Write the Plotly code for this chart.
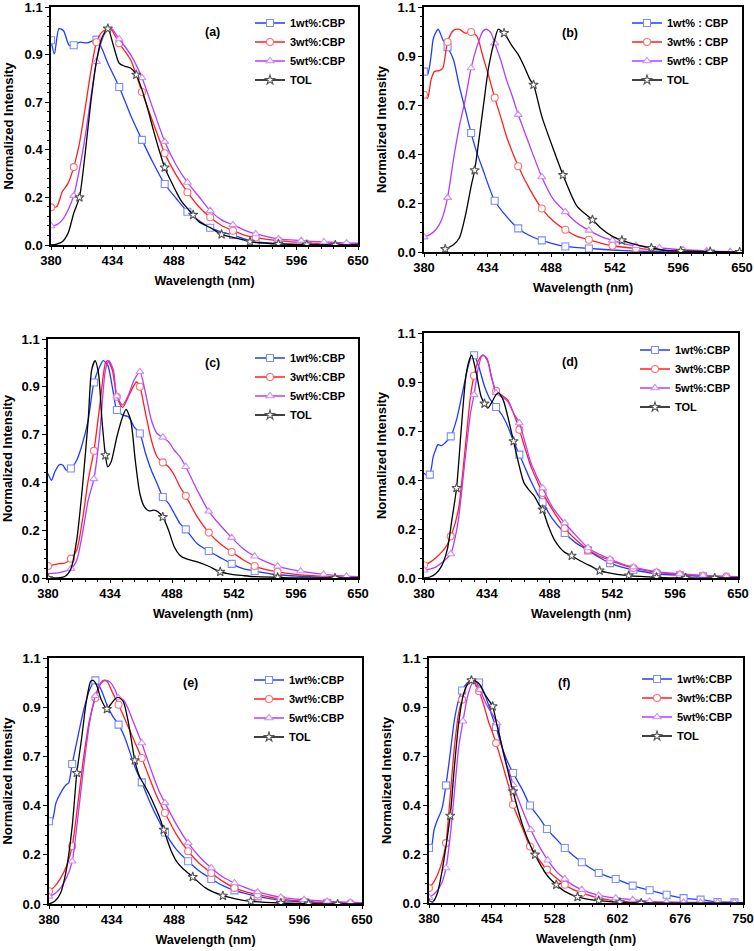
import plotly.graph_objects as go

# ---------------- data ----------------
NAMES = ["1wt%:CBP", "3wt%:CBP", "5wt%:CBP", "TOL"]
NAMES_B = ["1wt% : CBP", "3wt% : CBP", "5wt% : CBP", "TOL"]
PANEL_LABELS = ["(a)", "(b)", "(c)", "(d)", "(e)", "(f)"]
X_TICK0 = [380, 380, 380, 380, 380, 380]
X_DTICK = [54, 54, 54, 54, 54, 74]
X_MAX = [650, 650, 650, 650, 650, 750]
Y_TICKVALS = [0, 0.22, 0.44, 0.66, 0.88, 1.1]
Y_TICKTEXT = ["0.0", "0.2", "0.4", "0.7", "0.9", "1.1"]

# ---- panel (a)
A1_X = [380,383,387,391,396,400,405,412,420,425,430,440,450,460,470,480,490,500,510,520,530,540,550,560,580,600,650]
A1_Y = [0.946,0.883,1.0,0.99,0.923,0.923,0.937,0.934,0.949,0.905,0.84,0.73,0.6,0.486,0.378,0.282,0.216,0.154,0.113,0.08,0.06,0.046,0.028,0.015,0.006,0.002,0.0]
A1_M = [380,400,420,440,460,480,500,520,540,560]
A3_X = [380,385,390,395,400,405,410,415,420,425,432,440,450,460,470,480,490,500,510,520,530,540,550,560,570,580,600,620,640,650]
A3_Y = [0.174,0.177,0.247,0.285,0.36,0.47,0.63,0.8,0.937,0.985,1.0,0.932,0.856,0.707,0.563,0.424,0.324,0.244,0.177,0.128,0.09,0.066,0.046,0.035,0.026,0.02,0.011,0.006,0.003,0.002]
A3_M = [380,400,420,440,460,480,500,520,540,560,580]
A5_X = [380,385,390,395,400,405,410,415,420,425,429,433,440,450,460,470,480,490,500,510,520,530,540,550,560,570,580,600,620,640,650]
A5_Y = [0.088,0.093,0.116,0.162,0.228,0.35,0.5,0.68,0.847,0.95,0.99,1.0,0.952,0.88,0.773,0.625,0.478,0.37,0.289,0.224,0.159,0.116,0.093,0.069,0.051,0.039,0.028,0.02,0.014,0.009,0.008]
A5_M = [380,400,420,440,460,480,500,520,540,560,580,600,620,640]
AT_X = [380,385,390,395,400,405,410,415,420,425,430,435,440,445,450,455,460,465,470,475,480,485,490,495,505,510,520,530,540,550,555,570,580,605,630,650]
AT_Y = [0,0.004,0.015,0.054,0.147,0.22,0.42,0.66,0.85,0.96,1.0,0.92,0.84,0.826,0.818,0.787,0.718,0.63,0.532,0.44,0.358,0.3,0.247,0.2,0.139,0.108,0.08,0.049,0.035,0.023,0.015,0.008,0.005,0.002,0.0,0.0]
AT_M = [405,430,455,480,505,530,555,580,605,630]

# ---- panel (b)
B1_X = [380,383,386,388,392,396,400,405,410,415,420,425,430,440,450,460,470,480,490,500,520,540,560,580,600,650]
B1_Y = [0.81,0.796,0.88,0.96,1.0,0.953,0.919,0.864,0.744,0.64,0.534,0.444,0.37,0.23,0.16,0.106,0.073,0.052,0.037,0.025,0.016,0.009,0.004,0.0015,0.0,0.0]
B1_M = [380,400,420,440,460,480,500,520]
B3_X = [380,383,386,389,393,396,400,405,410,415,420,425,430,435,440,445,450,460,470,480,490,500,510,520,530,540,560,580,600,620,650]
B3_Y = [0.706,0.69,0.774,0.811,0.814,0.826,0.943,0.995,1.0,0.983,0.988,0.968,0.878,0.789,0.693,0.609,0.52,0.385,0.28,0.195,0.138,0.1,0.07,0.055,0.04,0.028,0.016,0.009,0.004,0.0015,0.0]
B3_M = [380,400,420,440,460,480,500,520,540,560]
B5_X = [380,385,390,395,400,405,410,415,420,425,430,433,437,440,445,450,455,460,470,480,490,500,510,520,530,540,550,560,580,600,620,640,650]
B5_Y = [0.067,0.078,0.1,0.145,0.244,0.415,0.564,0.684,0.826,0.923,0.991,1.0,0.983,0.938,0.864,0.774,0.699,0.617,0.474,0.337,0.235,0.18,0.13,0.097,0.07,0.052,0.037,0.028,0.018,0.01,0.005,0.0015,0.0]
B5_M = [380,400,420,440,460,480,500,520,540,560,580,600,620,640]
BT_X = [398,405,410,415,420,423,430,435,440,443,446,448,455,460,465,470,473,480,490,498,510,523,530,540,548,560,573,585,598,623,648]
BT_Y = [0.013,0.033,0.063,0.16,0.295,0.367,0.639,0.834,0.953,1.0,0.991,0.983,0.923,0.886,0.834,0.774,0.751,0.609,0.459,0.346,0.205,0.145,0.108,0.07,0.052,0.033,0.018,0.0075,0.0045,0.0015,0.0]
BT_M = [398,423,448,473,498,523,548,573,598,623,648]

# ---- panel (c)
C1_X = [380,383,386,390,393,396,400,405,410,415,420,425,428,432,436,440,445,450,455,460,465,470,475,480,485,490,495,500,510,520,530,540,550,560,580,600,620,650]
C1_Y = [0.481,0.45,0.489,0.522,0.519,0.496,0.504,0.542,0.619,0.727,0.9,0.972,1.0,0.98,0.88,0.773,0.75,0.742,0.696,0.665,0.573,0.496,0.435,0.373,0.343,0.297,0.25,0.224,0.158,0.124,0.094,0.065,0.043,0.032,0.015,0.008,0.003,0.0]
C1_M = [400,420,440,460,480,500,520,540,560]
C3_X = [380,390,395,400,405,410,415,420,425,430,432,436,440,445,450,455,457,460,465,470,475,480,485,490,495,500,510,520,530,540,550,560,570,580,600,620,640,650]
C3_Y = [0.055,0.066,0.069,0.089,0.128,0.266,0.45,0.585,0.79,0.988,1.0,0.957,0.834,0.785,0.834,0.888,0.902,0.88,0.757,0.635,0.558,0.532,0.512,0.473,0.419,0.378,0.281,0.209,0.158,0.12,0.084,0.055,0.038,0.028,0.014,0.008,0.003,0.0015]
C3_M = [380,400,420,440,460,480,500,520,540,560,580]
C5_X = [380,390,400,405,410,415,420,425,430,433,437,440,445,450,455,460,465,470,475,480,485,490,495,500,510,520,530,540,550,560,570,580,600,620,640,650]
C5_Y = [0.02,0.025,0.043,0.081,0.204,0.358,0.456,0.66,0.957,1.0,0.957,0.837,0.796,0.842,0.911,0.949,0.85,0.727,0.665,0.647,0.627,0.588,0.558,0.512,0.404,0.307,0.243,0.186,0.135,0.1,0.074,0.054,0.032,0.017,0.008,0.006]
C5_M = [400,420,440,460,480,500,520,540,560,580,600,620,640]
CT_X = [380,390,395,400,405,410,415,418,421,424,427,430,432,435,440,445,448,452,456,460,464,468,472,476,480,485,490,495,500,510,520,530,540,550,560,580,600,630,650]
CT_Y = [0,0.0015,0.008,0.043,0.174,0.419,0.727,0.957,1.0,0.942,0.727,0.565,0.512,0.535,0.65,0.742,0.776,0.727,0.542,0.389,0.327,0.309,0.312,0.304,0.281,0.22,0.143,0.104,0.089,0.074,0.054,0.028,0.017,0.011,0.006,0.003,0.0,0.0,0.0]
CT_M = [380,430,480,530,580,630]

# ---- panel (d)
D1_X = [380,383,385,388,390,392,395,398,403,408,413,418,421,423,427,432,437,442,447,452,457,462,467,472,477,482,490,501,510,521,530,540,550,560,580,600,620,650]
D1_Y = [0.471,0.459,0.464,0.546,0.576,0.599,0.594,0.606,0.636,0.711,0.831,0.951,0.998,1.0,0.951,0.861,0.801,0.768,0.733,0.681,0.614,0.554,0.494,0.434,0.382,0.34,0.269,0.202,0.16,0.124,0.094,0.067,0.049,0.037,0.019,0.012,0.0075,0.003]
D1_M = [385,403,423,442,462,482,501,521,540,560,580,600,620]
D3_X = [380,385,390,395,400,403,407,410,415,420,423,427,431,435,438,442,447,452,457,462,467,472,477,482,490,501,510,521,530,540,550,560,580,600,620,640,650]
D3_Y = [0.057,0.07,0.09,0.115,0.15,0.187,0.25,0.32,0.56,0.816,0.908,0.98,1.0,0.97,0.9,0.84,0.82,0.8,0.74,0.666,0.58,0.5,0.44,0.382,0.31,0.224,0.175,0.127,0.1,0.079,0.06,0.045,0.025,0.015,0.01,0.006,0.0045]
D3_M = [380,403,423,442,462,482,501,521,540,560,580,600,620,640]
D5_X = [380,385,390,395,403,407,410,415,420,423,427,430,434,438,442,447,452,457,462,467,472,477,482,490,501,510,521,530,540,550,560,580,600,620,640,650]
D5_Y = [0.035,0.04,0.049,0.067,0.108,0.187,0.277,0.516,0.741,0.822,0.951,1.0,0.988,0.905,0.831,0.813,0.793,0.741,0.696,0.606,0.516,0.456,0.404,0.322,0.247,0.195,0.135,0.108,0.085,0.064,0.049,0.028,0.018,0.012,0.0075,0.006]
D5_M = [380,403,423,442,462,482,501,521,540,560,580,600,620,640]
DT_X = [380,385,390,395,400,404,408,412,416,419,421,425,429,432,435,438,442,444,448,452,457,462,466,470,475,479,482,487,492,497,501,507,515,525,531,540,556,580,605,630,650]
DT_Y = [0,0.0045,0.019,0.052,0.127,0.262,0.404,0.666,0.905,0.98,1.0,0.92,0.816,0.783,0.763,0.786,0.823,0.831,0.801,0.726,0.614,0.501,0.427,0.397,0.367,0.329,0.307,0.232,0.172,0.135,0.115,0.1,0.075,0.049,0.033,0.022,0.0105,0.003,0.0,0.0,0.0]
DT_M = [408,432,457,482,507,531,556,580,605,630]

# ---- panel (e)
E1_X = [380,383,386,390,395,397,400,405,410,415,420,425,430,435,440,445,450,455,460,465,470,475,480,490,500,510,520,530,540,560,580,600,620,650]
E1_Y = [0.37,0.377,0.452,0.496,0.534,0.541,0.626,0.75,0.869,0.958,1.0,0.958,0.891,0.839,0.802,0.75,0.675,0.601,0.544,0.481,0.422,0.37,0.32,0.243,0.191,0.146,0.112,0.082,0.061,0.034,0.016,0.009,0.0045,0.0015]
E1_M = [380,400,420,440,460,480,500,520,540,560,580,600,620]
E3_X = [380,385,390,395,400,405,410,415,420,425,427,430,435,440,445,450,455,460,465,470,475,480,490,500,510,520,530,540,550,560,580,600,620,640,650]
E3_Y = [0.057,0.079,0.116,0.168,0.258,0.452,0.66,0.824,0.921,0.991,1.0,0.996,0.943,0.891,0.832,0.772,0.712,0.653,0.586,0.519,0.459,0.407,0.31,0.236,0.18,0.139,0.101,0.072,0.054,0.042,0.022,0.012,0.006,0.003,0.0015]
E3_M = [380,400,420,440,460,480,500,520,540,560,580,600,620,640]
E5_X = [380,385,390,395,400,405,410,415,420,425,429,433,437,440,444,448,452,456,460,465,470,475,480,490,500,510,520,530,540,550,560,580,600,620,640,650]
E5_Y = [0.034,0.046,0.072,0.116,0.191,0.392,0.616,0.81,0.931,0.988,1.0,0.991,0.958,0.921,0.914,0.876,0.824,0.772,0.72,0.645,0.571,0.504,0.452,0.355,0.273,0.21,0.161,0.121,0.094,0.072,0.054,0.03,0.019,0.012,0.0075,0.006]
E5_M = [380,400,420,440,460,480,500,520,540,560,580,600,620,640]
ET_X = [380,385,390,395,400,404,408,412,416,418,421,425,430,433,437,440,444,448,451,454,458,462,466,470,475,479,485,490,495,504,515,530,540,554,580,604,629,650]
ET_Y = [0,0.012,0.049,0.154,0.347,0.586,0.735,0.899,0.996,1.0,0.98,0.914,0.872,0.891,0.917,0.924,0.906,0.824,0.735,0.642,0.571,0.534,0.496,0.452,0.392,0.332,0.243,0.191,0.161,0.121,0.072,0.037,0.024,0.012,0.0045,0.0015,0.0,0.0]
ET_M = [404,430,454,479,504,530,554,580,604,629]

# ---- panel (f)
F1_X = [380,383,386,390,395,400,405,410,415,419,425,430,435,439,445,450,455,459,465,470,475,479,490,499,510,519,530,540,550,560,570,580,590,600,620,640,660,680,700,720,740,750]
F1_Y = [0.247,0.257,0.329,0.374,0.419,0.528,0.673,0.823,0.913,0.954,0.988,1.0,0.997,0.99,0.943,0.891,0.831,0.79,0.711,0.658,0.614,0.584,0.509,0.438,0.382,0.332,0.287,0.247,0.213,0.183,0.157,0.135,0.12,0.108,0.078,0.057,0.037,0.022,0.015,0.0045,0.003,0.0015]
F1_M = [380,400,419,439,459,479,499,519,540,560,580,600,620,640,660,680,700,720,740]
F3_X = [380,385,390,395,400,405,410,415,419,425,429,433,439,445,450,455,459,465,470,475,479,490,499,510,519,530,540,550,560,580,600,620,640,660,750]
F3_Y = [0.067,0.09,0.127,0.18,0.269,0.479,0.703,0.853,0.913,0.981,1.0,0.991,0.951,0.883,0.816,0.763,0.718,0.643,0.576,0.509,0.441,0.337,0.254,0.192,0.15,0.112,0.082,0.06,0.045,0.022,0.0105,0.0045,0.0015,0.0,0.0]
F3_M = [380,400,419,439,459,479,499,519,540,560,580,600]
F5_X = [380,385,390,395,400,405,410,415,420,425,430,434,440,445,450,455,460,465,470,475,479,490,500,510,520,530,540,550,560,580,600,620,640,660,680,700,720,740,750]
F5_Y = [0.025,0.037,0.057,0.09,0.157,0.3,0.5,0.7,0.816,0.92,0.98,1.0,0.958,0.913,0.876,0.846,0.808,0.718,0.636,0.584,0.531,0.419,0.329,0.254,0.192,0.142,0.108,0.079,0.06,0.034,0.022,0.015,0.0075,0.0045,0.003,0.003,0.003,0.003,0.0015]
F5_M = [380,400,420,440,460,479,500,520,540,560,580,600,620,640,660,680,700,720,740]
FT_X = [380,385,390,395,400,405,410,415,420,425,430,435,440,445,450,455,460,465,470,475,479,490,500,505,510,520,530,540,555,570,580,605,630,750]
FT_Y = [0,0.0075,0.045,0.135,0.254,0.392,0.614,0.808,0.928,0.98,1.0,0.996,0.98,0.943,0.913,0.883,0.8,0.72,0.64,0.56,0.501,0.352,0.254,0.217,0.18,0.12,0.082,0.052,0.027,0.015,0.0105,0.003,0.0,0.0]
FT_M = [380,405,430,455,479,505,530,555,580,605,630]

# ---------------- styling / layout (pixels in a 754x951 page) ----------------
W, H = 754, 951
# plot-area boxes: left, right, top, bottom (px)
BOXES = [(51, 358, 7, 245), (424, 742, 7, 252),
         (48, 358, 339, 578), (424, 738, 333, 578),
         (49, 362, 658, 904), (429, 743, 658, 903)]
# legend line-start x and first-row y (px)
LEG_POS = [(252, 25), (629, 25), (252, 360), (637, 352), (251, 682), (639, 681)]
LAB_POS = [(212, 32), (570, 33), (212, 363), (570, 362), (190, 683), (564, 683)]

COLORS = ["#1f3dff", "#ff1f1f", "#b43cff", "#000000"]
MCOLORS = ["#7b8cff", "#ff7070", "#d08cff", "#555555"]
SYMBOLS = ["square", "circle", "triangle-up", "star"]
FONT = "Liberation Sans, Arial, sans-serif"

PANELS = [
    [(A1_X, A1_Y, A1_M), (A3_X, A3_Y, A3_M), (A5_X, A5_Y, A5_M), (AT_X, AT_Y, AT_M)],
    [(B1_X, B1_Y, B1_M), (B3_X, B3_Y, B3_M), (B5_X, B5_Y, B5_M), (BT_X, BT_Y, BT_M)],
    [(C1_X, C1_Y, C1_M), (C3_X, C3_Y, C3_M), (C5_X, C5_Y, C5_M), (CT_X, CT_Y, CT_M)],
    [(D1_X, D1_Y, D1_M), (D3_X, D3_Y, D3_M), (D5_X, D5_Y, D5_M), (DT_X, DT_Y, DT_M)],
    [(E1_X, E1_Y, E1_M), (E3_X, E3_Y, E3_M), (E5_X, E5_Y, E5_M), (ET_X, ET_Y, ET_M)],
    [(F1_X, F1_Y, F1_M), (F3_X, F3_Y, F3_M), (F5_X, F5_Y, F5_M), (FT_X, FT_Y, FT_M)],
]

fig = go.Figure()
layout = dict(template="none", width=W, height=H, margin=dict(l=0, r=0, t=0, b=0, pad=0),
              paper_bgcolor="white", plot_bgcolor="white", annotations=[])

for p, series in enumerate(PANELS):
    k = "" if p == 0 else str(p + 1)
    xa, ya = "x" + k, "y" + k
    leg = "legend" + k
    names = NAMES_B if p == 1 else NAMES
    for s, (xs, ys, marks) in enumerate(series):
        col, mcol, sym = COLORS[s], MCOLORS[s], SYMBOLS[s]
        fig.add_trace(go.Scatter(x=xs, y=ys, mode="lines", xaxis=xa, yaxis=ya,
                                 line=dict(color=col, width=1.3, shape="spline", smoothing=0.7),
                                 showlegend=False, hoverinfo="skip"))
        idx = [min(range(len(xs)), key=lambda i: abs(xs[i] - m)) for m in marks]
        fig.add_trace(go.Scatter(x=[xs[i] for i in idx], y=[ys[i] for i in idx],
                                 mode="markers", xaxis=xa, yaxis=ya, showlegend=False,
                                 marker=dict(symbol=sym, size=7, color="white",
                                             line=dict(color=mcol, width=1.1))))
        fig.add_trace(go.Scatter(x=[None], y=[None], mode="lines+markers", xaxis=xa, yaxis=ya,
                                 name=names[s], legend=leg,
                                 line=dict(color=col, width=1.3),
                                 marker=dict(symbol=sym, size=7, color="white",
                                             line=dict(color=mcol, width=1.1))))
    l, r, t, b = BOXES[p]
    layout["xaxis" + k] = dict(
        domain=[l / W, r / W], anchor=ya, range=[X_TICK0[p], X_MAX[p]], automargin=False,
        tickmode="linear", tick0=X_TICK0[p], dtick=X_DTICK[p], ticklabeloverflow="allow",
        ticks="outside", ticklen=3, tickwidth=1.2, tickcolor="black",
        minor=dict(ticks="outside", ticklen=2, tickwidth=1, tickcolor="black",
                   tick0=X_TICK0[p], dtick=X_DTICK[p] / 5, showgrid=False),
        showline=True, linewidth=1.5, linecolor="black", mirror=True,
        showgrid=False, zeroline=False,
        tickfont=dict(family=FONT, size=13, color="black", weight="bold"),
        title=dict(text="Wavelength (nm)", standoff=9,
                   font=dict(family=FONT, size=12.5, color="black", weight="bold")))
    layout["yaxis" + k] = dict(
        domain=[1 - b / H, 1 - t / H], anchor=xa, range=[0, 1.1], automargin=False,
        tickmode="array", tickvals=Y_TICKVALS, ticktext=Y_TICKTEXT, ticklabeloverflow="allow",
        ticks="outside", ticklen=4, tickwidth=1.2, tickcolor="black",
        minor=dict(ticks="outside", ticklen=2, tickwidth=1, tickcolor="black",
                   tickmode="linear", tick0=0, dtick=0.044, showgrid=False),
        showline=True, linewidth=1.5, linecolor="black", mirror=True,
        showgrid=False, zeroline=False,
        tickfont=dict(family=FONT, size=13, color="black", weight="bold"),
        title=dict(text="Normalized Intensity", standoff=8,
                   font=dict(family=FONT, size=13, color="black", weight="bold")))
    lx, ly = LEG_POS[p]
    layout[leg] = dict(x=(lx - 2) / W, y=1 - (ly - 16.5) / H, xanchor="left", yanchor="top",
                       bgcolor="rgba(0,0,0,0)", borderwidth=0,
                       font=dict(family=FONT, size=11, color="black", weight="bold"))
    ax, ay = LAB_POS[p]
    layout["annotations"].append(dict(
        x=ax / W, y=1 - ay / H, xref="paper", yref="paper", showarrow=False,
        text=PANEL_LABELS[p], xanchor="center", yanchor="middle",
        font=dict(family=FONT, size=12.5, color="black", weight="bold")))

fig.update_layout(**layout)
fig.write_html("out.html", config={"displayModeBar": False},
               post_script="document.body.style.margin='0';document.body.style.overflow='hidden';")
